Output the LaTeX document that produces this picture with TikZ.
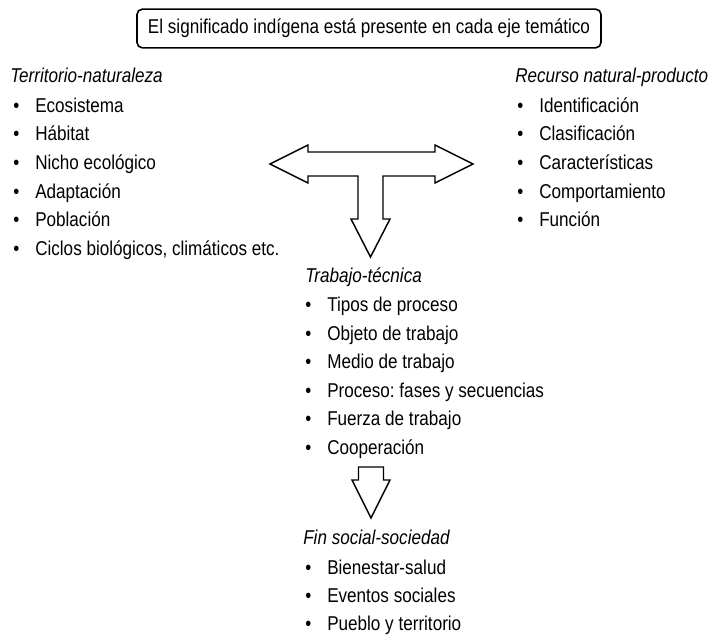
\documentclass[tikz,border=0pt]{standalone}
\usepackage{fontspec}
\setmainfont[FakeStretch=0.855]{Liberation Sans}
\usepackage{tikz}
\frenchspacing

\newcommand{\itembul}{\makebox[16.5pt][l]{\textbullet}}
\tikzset{
  head/.style={anchor=base west,inner sep=0pt,font=\fontsize{15}{18}\selectfont\itshape},
  item/.style={anchor=base west,inner sep=0pt,font=\fontsize{15}{18}\selectfont},
  blockarrow/.style={draw,line width=1.1pt,line join=miter}
}

\begin{document}
\begin{tikzpicture}[x=0.75pt,y=-0.75pt]
\useasboundingbox (0,0) rectangle (714,635);
\node[draw,rounded corners=4pt,line width=1.2pt,minimum width=348pt,minimum height=29pt,
  font=\fontsize{15}{18}\selectfont] (tema) at (369,28.5) {El significado indígena está presente en cada eje temático};
% territorio
\node[head] (terr) at (10,83) {Territorio-naturaleza};
\node[item] (terr1) at (13,112.5) {\itembul Ecosistema};
\node[item] (terr2) at (13,141) {\itembul Hábitat};
\node[item] (terr3) at (13,169.5) {\itembul Nicho ecológico};
\node[item] (terr4) at (13,198) {\itembul Adaptación};
\node[item] (terr5) at (13,226.5) {\itembul Población};
\node[item] (terr6) at (13,255) {\itembul Ciclos biológicos, climáticos etc.};
% recurso
\node[head] (rec) at (515,83) {Recurso natural-producto};
\node[item] (rec1) at (517,112.5) {\itembul Identificación};
\node[item] (rec2) at (517,141) {\itembul Clasificación};
\node[item] (rec3) at (517,169.5) {\itembul Características};
\node[item] (rec4) at (517,198) {\itembul Comportamiento};
\node[item] (rec5) at (517,226.5) {\itembul Función};
% trabajo
\node[head] (trab) at (305,282) {Trabajo-técnica};
\node[item] (trab1) at (305,311.5) {\itembul Tipos de proceso};
\node[item] (trab2) at (305,340) {\itembul Objeto de trabajo};
\node[item] (trab3) at (305,368.5) {\itembul Medio de trabajo};
\node[item] (trab4) at (305,397) {\itembul Proceso: fases y secuencias};
\node[item] (trab5) at (305,425.5) {\itembul Fuerza de trabajo};
\node[item] (trab6) at (305,454) {\itembul Cooperación};
% fin social
\node[head] (fin) at (303,544) {Fin social-sociedad};
\node[item] (fin1) at (305,574) {\itembul Bienestar-salud};
\node[item] (fin2) at (305,602.5) {\itembul Eventos sociales};
\node[item] (fin3) at (305,630.5) {\itembul Pueblo y territorio};
% flechas
\draw[blockarrow] (270,164) -- (308,145) -- (308,152) -- (435,152) -- (435,145) -- (473,164)
  -- (435,183) -- (435,176) -- (383,176) -- (383,219) -- (390,219) -- (370.5,257)
  -- (351,219) -- (358,219) -- (358,176) -- (308,176) -- (308,183) -- cycle;
\draw[blockarrow] (358.5,467) -- (383.5,467) -- (383.5,480) -- (390,480) -- (371,518)
  -- (352,480) -- (358.5,480) -- cycle;
\end{tikzpicture}
\end{document}
